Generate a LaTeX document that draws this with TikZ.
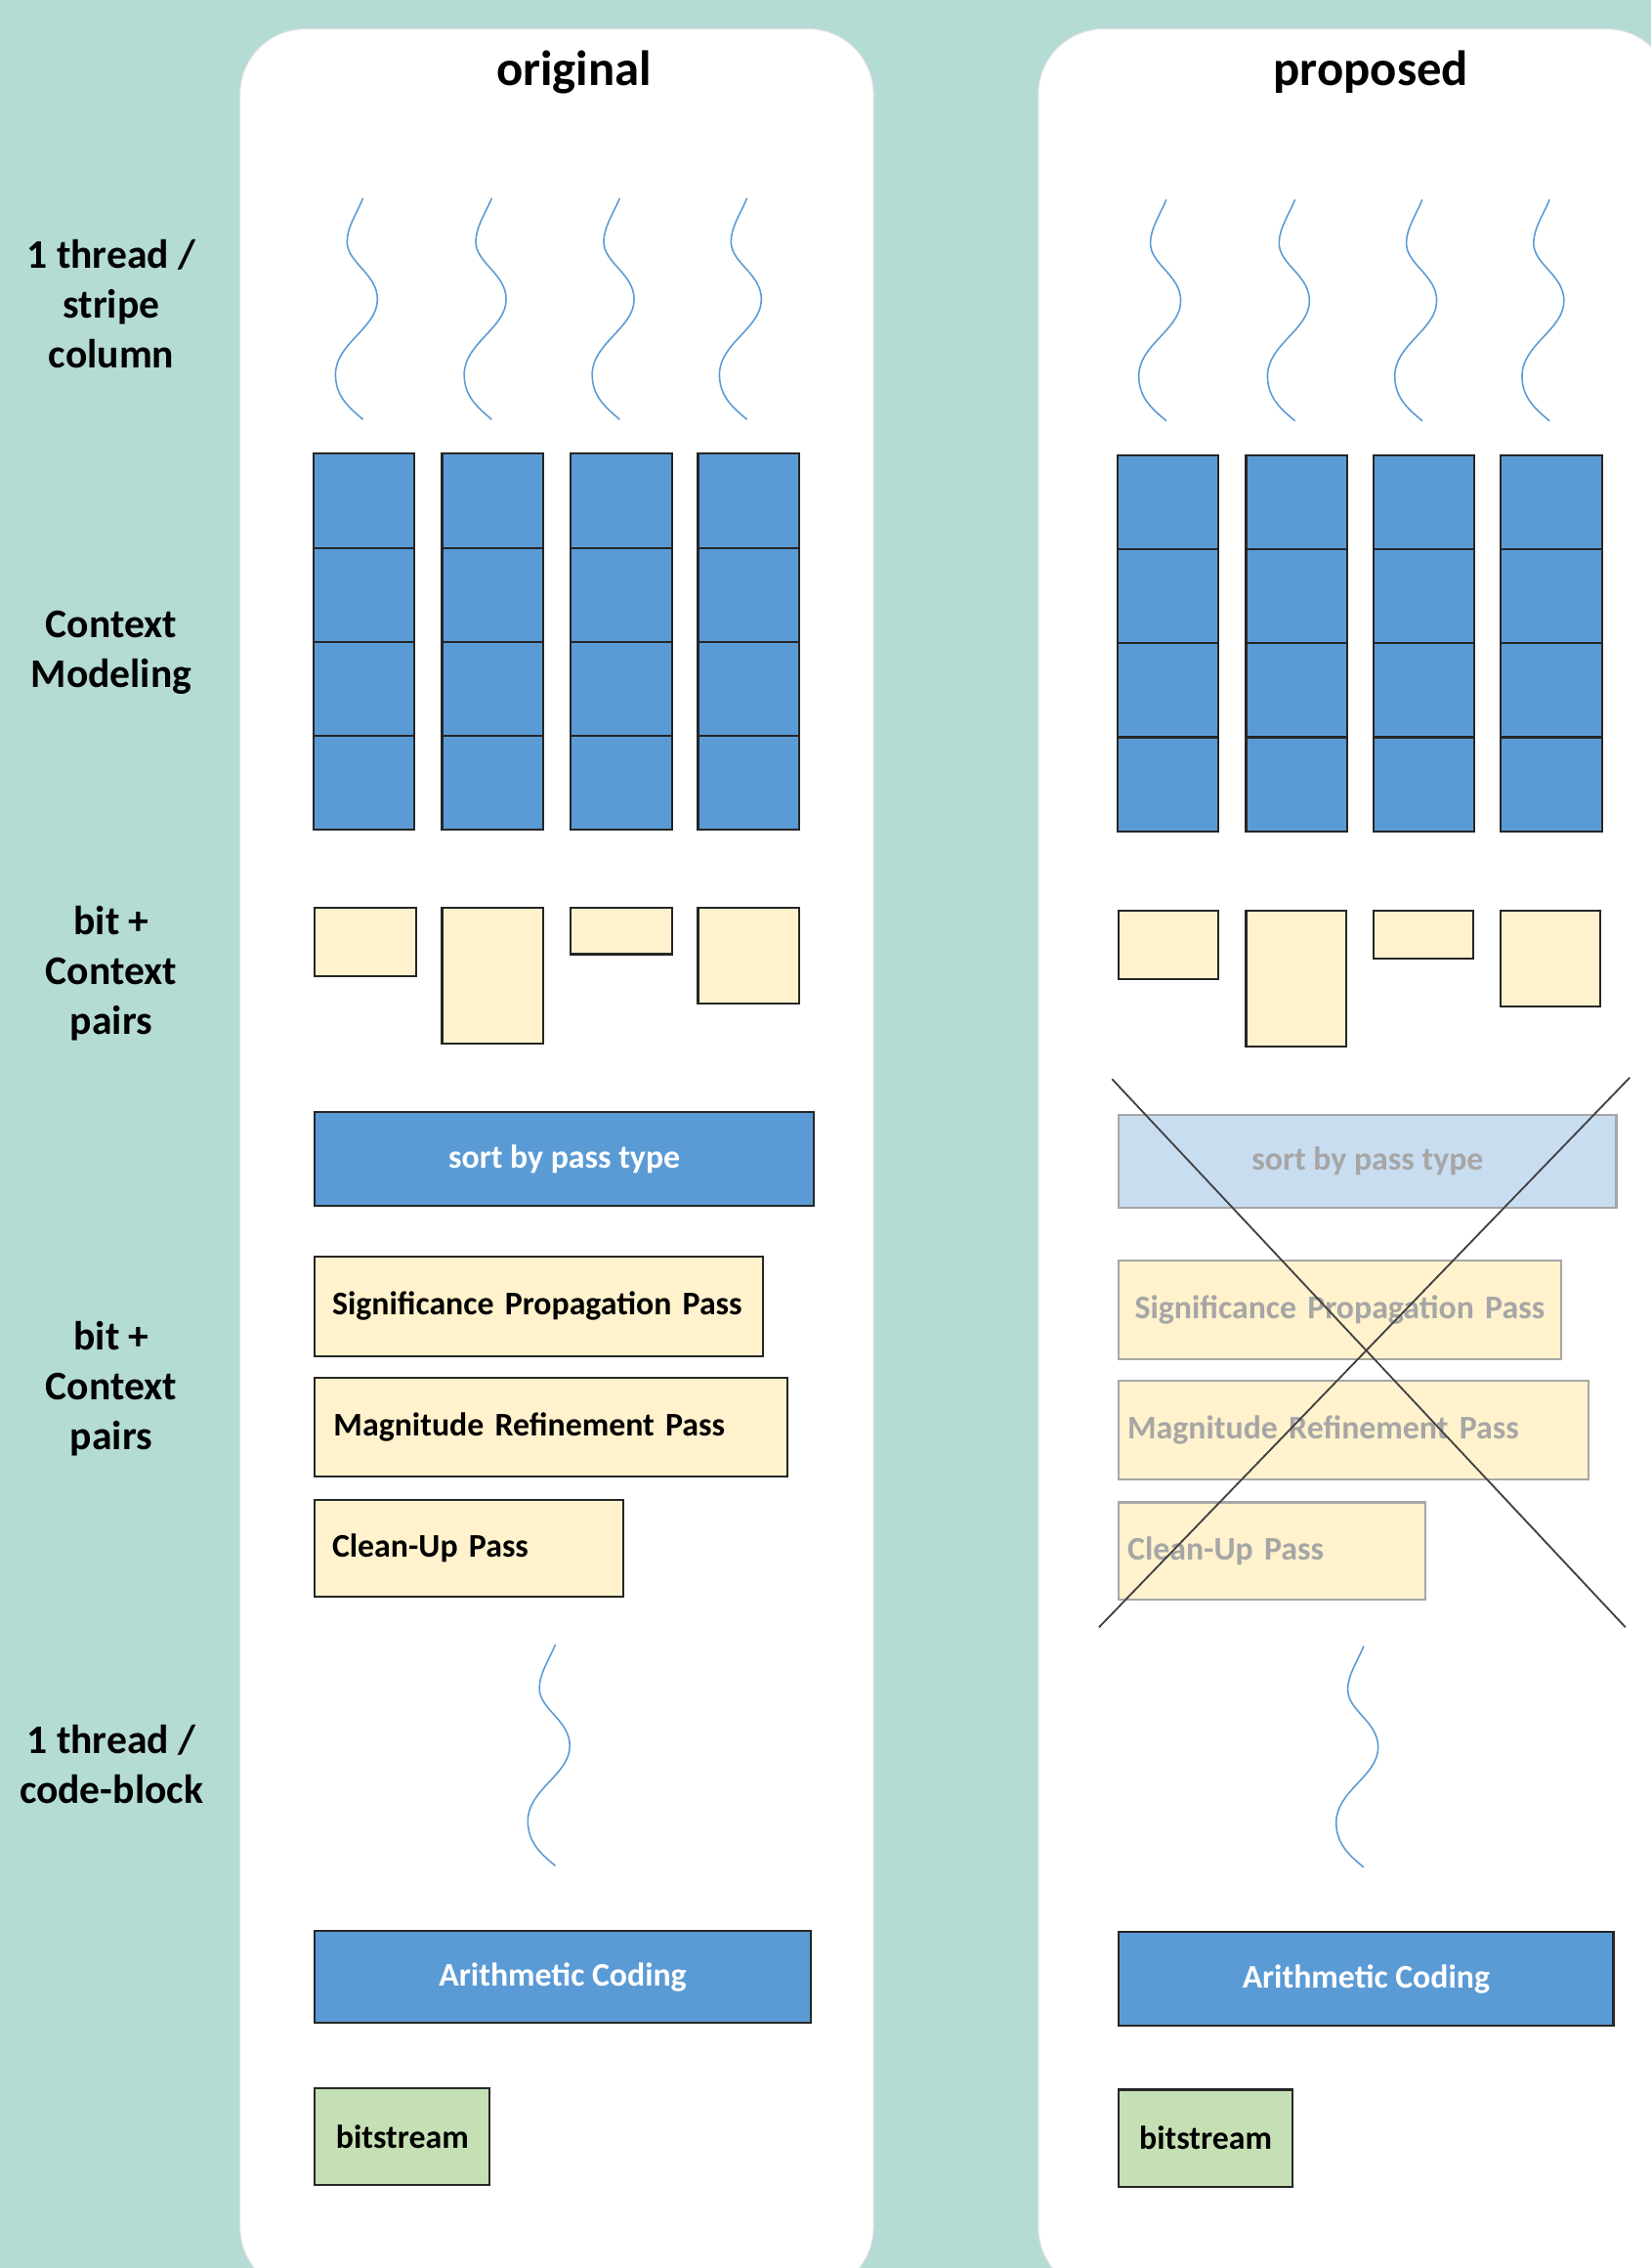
\documentclass[tikz,border=0pt]{standalone}
\usepackage{fontspec}
\setmainfont{Carlito}
\usepackage{tikz}

\definecolor{bgteal}{RGB}{180,220,212}
\definecolor{cellblue}{RGB}{91,155,213}
\definecolor{pairyellow}{RGB}{255,242,204}
\definecolor{streamgreen}{RGB}{197,224,180}
\definecolor{fadeblue}{RGB}{201,221,240}
\definecolor{fadegray}{RGB}{166,166,166}
\definecolor{edgegray}{RGB}{38,38,38}

\begin{document}
\begin{tikzpicture}[
    x=0.2mm, y=-0.2mm,
    box/.style={draw=edgegray, line width=0.8pt, inner sep=0pt, anchor=north west,
        font=\fontsize{13}{15}\selectfont\bfseries},
    cell/.style={box, fill=cellblue, minimum width=14mm, minimum height=13mm},
    pairbox/.style={box, fill=pairyellow, minimum width=14mm},
    bluebar/.style={box, fill=cellblue, text=white},
    passbox/.style={box, fill=pairyellow, align=left, inner xsep=2.4mm},
    fadebar/.style={box, draw=fadegray, fill=fadeblue, text=fadegray},
    fadepass/.style={passbox, draw=fadegray, text=fadegray},
    greenbox/.style={box, fill=streamgreen},
    lbl/.style={align=center, font=\fontsize{16}{19.6}\selectfont\bfseries},
    title/.style={font=\fontsize{19.5}{23}\selectfont\bfseries},
    wave/.style={cellblue, line width=0.6pt},
    cross/.style={draw=black!75, line width=0.7pt}
]

% Background and panels
\useasboundingbox (0,0) rectangle (1142,1568);
\clip (0,0) rectangle (1142,1568);
\fill[bgteal] (0,0) rectangle (1142,1568);
\filldraw[
    fill=white,
    draw=black!12,
    rounded corners=9mm
] (166,20) rectangle (604,1585);
\filldraw[
    fill=white,
    draw=black!12,
    rounded corners=9mm
] (718,20) rectangle (1156,1585);

% Titles
\node[title] (original) at (397,50) {original};
\node[title] (proposed) at (948,50) {proposed};

% Row labels
\node[lbl] (rowthread) at (77,210) {1 thread /\\stripe\\column};
\node[lbl] (rowcontext) at (77,451) {Context\\Modeling};
\node[lbl] (rowpairs) at (77,673) {bit +\\Context\\pairs};
\node[lbl] (rowpasses) at (77,960) {bit +\\Context\\pairs};
\node[lbl] (rowblock) at (77,1220) {1 thread /\\code-block};

% Threads
\foreach \xx/\yy in {251/137,340/137,428.5/137,516.5/137,
                     806.5/138,895.5/138,983.5/138,1071.5/138,
                     384/1137,943/1138}
    \draw[wave, shift={(\xx,\yy)}] (0,0)
        .. controls (-4,10) and (-11,20) .. (-11,30)
        .. controls (-11,45) and (10,52) .. (10,70)
        .. controls (10,90) and (-19,100) .. (-19,122)
        .. controls (-19,138) and (-8,146) .. (0,153);

% Context modeling grids
\foreach \i/\xx in {1/216,2/305,3/394,4/482}
    \foreach \j in {1,...,4}
        \node[cell] (cellL\i\j) at (\xx,{313+65*(\j-1)}) {};
\foreach \i/\xx in {1/772,2/861,3/949,4/1037}
    \foreach \j in {1,...,4}
        \node[cell] (cellR\i\j) at (\xx,{314+65*(\j-1)}) {};

% Bit + context pairs
\foreach \i/\xx/\hh in {1/217/9.4mm,2/305/18.8mm,3/394/6.4mm,4/482/13.2mm}
    \node[pairbox, minimum height=\hh] (pairL\i) at (\xx,627) {};
\foreach \i/\xx/\hh in {1/773/9.4mm,2/861/18.8mm,3/949/6.6mm,4/1037/13.2mm}
    \node[pairbox, minimum width=13.8mm, minimum height=\hh] (pairR\i) at (\xx,629) {};

% Original: sorting and passes
\node[bluebar, minimum width=69mm, minimum height=13mm] (sortL) at (217,768) {sort by pass type};
\node[passbox, text width=57.2mm, minimum height=13.8mm] (sigL) at (217,868) {Significance Propagation Pass};
\node[passbox, text width=60.2mm, inner xsep=2.6mm, minimum height=13.6mm] (magL) at (217,952) {Magnitude Refinement Pass};
\node[passbox, text width=37.8mm, minimum height=13.4mm] (cleanL) at (217,1036) {Clean-Up Pass};

% Proposed: sorting and passes (removed)
\node[fadebar, minimum width=68.8mm, minimum height=12.8mm] (sortR) at (773,770) {sort by pass type};
\node[fadepass, text width=56.8mm, inner xsep=2.2mm, minimum height=13.6mm] (sigR) at (773,871) {Significance Propagation Pass};
\node[fadepass, text width=62.6mm, inner xsep=1.2mm, minimum height=13.6mm] (magR) at (773,954) {Magnitude Refinement Pass};
\node[fadepass, text width=40mm, inner xsep=1.2mm, minimum height=13.4mm] (cleanR) at (773,1038) {Clean-Up Pass};

% Cross
\coordinate (crossA) at (769,746);
\coordinate (crossB) at (1124,1125);
\coordinate (crossC) at (1127,745);
\coordinate (crossD) at (760,1125);
\draw[cross] (crossA) -- (crossB);
\draw[cross] (crossC) -- (crossD);

% Arithmetic coding and output
\node[bluebar, minimum width=68.6mm, minimum height=12.8mm] (arithL) at (217,1334) {Arithmetic Coding};
\node[bluebar, minimum width=68.4mm, minimum height=13mm] (arithR) at (773,1335) {Arithmetic Coding};
\node[greenbox, minimum width=24.2mm, minimum height=13.4mm] (streamL) at (217,1443) {bitstream};
\node[greenbox, minimum width=24mm, minimum height=13.4mm] (streamR) at (773,1444) {bitstream};

\end{tikzpicture}
\end{document}
